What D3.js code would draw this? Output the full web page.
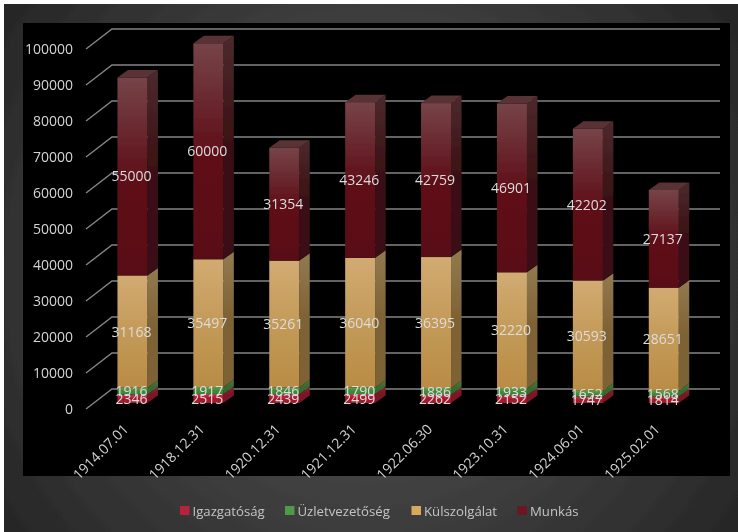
<!DOCTYPE html>
<html>
<head>
<meta charset="utf-8">
<script src="https://cdnjs.cloudflare.com/ajax/libs/d3/7.8.5/d3.min.js"></script>
<style>
  html, body { margin: 0; padding: 0; background: #fff; }
  svg { display: block; }
  text { font-family: "Open Sans", sans-serif; }
</style>
</head>
<body>
<div id="chart"></div>
<script>
// Categories and series
const dates = ["1914.07.01", "1918.12.31", "1920.12.31", "1921.12.31", "1922.06.30", "1923.10.31", "1924.06.01", "1925.02.01"];
const igazgatosag = [2346, 2515, 2439, 2499, 2262, 2152, 1747, 1814];
const uzletvezetoseg = [1916, 1917, 1846, 1790, 1886, 1933, 1652, 1568];
const kulszolgalat = [31168, 35497, 35261, 36040, 36395, 32220, 30593, 28651];
const munkas = [55000, 60000, 31354, 43246, 42759, 46901, 42202, 27137];
const seriesNames = ["Igazgatóság", "Üzletvezetőség", "Külszolgálat", "Munkás"];
const yTicks = [0, 10000, 20000, 30000, 40000, 50000, 60000, 70000, 80000, 90000, 100000];

const width = 738, height = 532;

const rows = dates.map((d, i) => ({
  date: d,
  [seriesNames[0]]: igazgatosag[i],
  [seriesNames[1]]: uzletvezetoseg[i],
  [seriesNames[2]]: kulszolgalat[i],
  [seriesNames[3]]: munkas[i]
}));
const stacked = d3.stack().keys(seriesNames)(rows);

// Colours per series: front top/mid/bottom, side top/bottom, top face, legend
const palette = [
  { front: ["#c2364a", "#a8192d", "#a01a2c"], side: ["#8a2233", "#7a1525"], top: "#8a2a38", legend: "#b8243a" },
  { front: ["#5f9f50", "#3f8a3c", "#3d8438"], side: ["#4a7a40", "#38692f"], top: "#4a7a40", legend: "#4e9a48" },
  { front: ["#d2ab73", "#c39a58", "#b98c45"], side: ["#927a50", "#7d6234"], top: "#8f7343", legend: "#d8a95c" },
  { front: ["#764448", "#5f1019", "#590d16"], side: ["#4c2a2d", "#3a1013"], top: "#593236", legend: "#6d1622" }
];

// Scales: wall is 360 px tall, bars stand 14 px in front of the wall
const y = d3.scaleLinear().domain([0, 100000]).range([389, 29]);
const x = d3.scaleBand().domain(dates).range([94.5, 701.7]).paddingInner(0.605).paddingOuter(0.3025);

const wallDx = 26, wallDy = 20;   // depth of side wall
const barDx = 10.5, barDy = 7.5;  // depth of one column
const barShiftY = 14;             // bar front baseline relative to wall baseline

const root = d3.select("#chart").append("svg")
  .attr("width", width)
  .attr("height", height);

const defs = root.append("defs");

// the reference is a soft, upscaled picture
defs.append("filter")
  .attr("id", "soft")
  .attr("filterUnits", "userSpaceOnUse")
  .attr("x", 0).attr("y", 0).attr("width", width).attr("height", height)
  .append("feGaussianBlur").attr("stdDeviation", 0.4);

const svg = root.append("g").attr("filter", "url(#soft)");

const bg = defs.append("radialGradient")
  .attr("id", "bg")
  .attr("gradientUnits", "userSpaceOnUse")
  .attr("cx", 370).attr("cy", 270).attr("r", 460);
bg.append("stop").attr("offset", "0%").attr("stop-color", "#5a5a5a");
bg.append("stop").attr("offset", "100%").attr("stop-color", "#252525");

palette.forEach((p, i) => {
  const g = defs.append("linearGradient")
    .attr("id", "front" + i)
    .attr("x1", 0).attr("y1", 0).attr("x2", 0).attr("y2", 1);
  g.append("stop").attr("offset", "0%").attr("stop-color", p.front[0]);
  g.append("stop").attr("offset", "50%").attr("stop-color", p.front[1]);
  g.append("stop").attr("offset", "100%").attr("stop-color", p.front[2]);
  const s = defs.append("linearGradient")
    .attr("id", "side" + i)
    .attr("x1", 0).attr("y1", 0).attr("x2", 0).attr("y2", 1);
  s.append("stop").attr("offset", "0%").attr("stop-color", p.side[0]);
  s.append("stop").attr("offset", "50%").attr("stop-color", p.side[1]);
  s.append("stop").attr("offset", "100%").attr("stop-color", p.side[1]);
});

// Frame and black plot panel
svg.append("rect").attr("x", 4).attr("y", 4).attr("width", width - 4).attr("height", height - 4).attr("fill", "url(#bg)");
svg.append("rect").attr("x", 23).attr("y", 23).attr("width", 707).attr("height", 453).attr("fill", "#000");

// Gridlines on back wall and side wall
const grid = svg.append("g").attr("stroke", "#858585").attr("stroke-width", 1.4).attr("fill", "none");
yTicks.forEach(t => {
  grid.append("path").attr("d", `M${112 - wallDx},${y(t) + wallDy}L112,${y(t)}L720,${y(t)}`);
});

// Y axis
const yAxis = svg.append("g")
  .attr("transform", `translate(80,${wallDy})`)
  .call(d3.axisLeft(y).tickValues(yTicks).tickSize(0).tickPadding(7).tickFormat(d3.format("d")));
yAxis.select(".domain").remove();
yAxis.selectAll("text").attr("fill", "#d4d4d4").attr("font-size", 14).style("font-family", '"Open Sans", sans-serif');

// Columns
const yBar = v => y(v) + barShiftY;
stacked.forEach((s, i) => {
  const p = palette[i];
  const g = svg.append("g");
  // side face
  g.selectAll("path.side").data(s).enter().append("path")
    .attr("class", "side")
    .attr("fill", `url(#side${i})`)
    .attr("d", d => {
      const r = x(d.data.date) + x.bandwidth();
      return `M${r},${yBar(d[0])}L${r + barDx},${yBar(d[0]) - barDy}L${r + barDx},${yBar(d[1]) - barDy}L${r},${yBar(d[1])}Z`;
    });
  // front face
  g.selectAll("rect").data(s).enter().append("rect")
    .attr("x", d => x(d.data.date))
    .attr("y", d => yBar(d[1]))
    .attr("width", x.bandwidth())
    .attr("height", d => yBar(d[0]) - yBar(d[1]))
    .attr("fill", `url(#front${i})`);
  // top face only shows on the last series
  if (i === stacked.length - 1) {
    g.selectAll("path.top").data(s).enter().append("path")
      .attr("class", "top")
      .attr("fill", p.top)
      .attr("d", d => {
        const l = x(d.data.date), r = l + x.bandwidth(), t = yBar(d[1]);
        return `M${l},${t}L${l + barDx},${t - barDy}L${r + barDx},${t - barDy}L${r},${t}Z`;
      });
  }
});

// Data labels
stacked.forEach(s => {
  svg.append("g").selectAll("text").data(s).enter().append("text")
    .attr("x", d => x(d.data.date) + x.bandwidth() / 2 - 1)
    .attr("y", d => (yBar(d[0]) + yBar(d[1])) / 2)
    .attr("dy", "0.36em")
    .attr("text-anchor", "middle")
    .attr("fill", "#dcdcdc")
    .attr("font-size", 14)
    .text(d => d[1] - d[0]);
});

// Category labels
svg.append("g").selectAll("text").data(dates).enter().append("text")
  .attr("transform", d => `translate(${x(d) + x.bandwidth() / 2 - 3},430) rotate(-45)`)
  .attr("text-anchor", "end")
  .attr("fill", "#d4d4d4")
  .attr("font-size", 14)
  .text(d => d);

// Legend
const legendX = [180, 285, 411.5, 517.5];
const legend = svg.append("g").selectAll("g").data(seriesNames).enter().append("g")
  .attr("transform", (d, i) => `translate(${legendX[i]},511)`);
legend.append("rect")
  .attr("x", 0).attr("y", -5)
  .attr("width", 9.5).attr("height", 9)
  .attr("fill", (d, i) => palette[i].legend);
legend.append("text")
  .attr("x", 12.5).attr("y", 0)
  .attr("dy", "0.36em")
  .attr("fill", "#c4c4c4")
  .attr("font-size", 13.2)
  .text(d => d);
</script>
</body>
</html>
